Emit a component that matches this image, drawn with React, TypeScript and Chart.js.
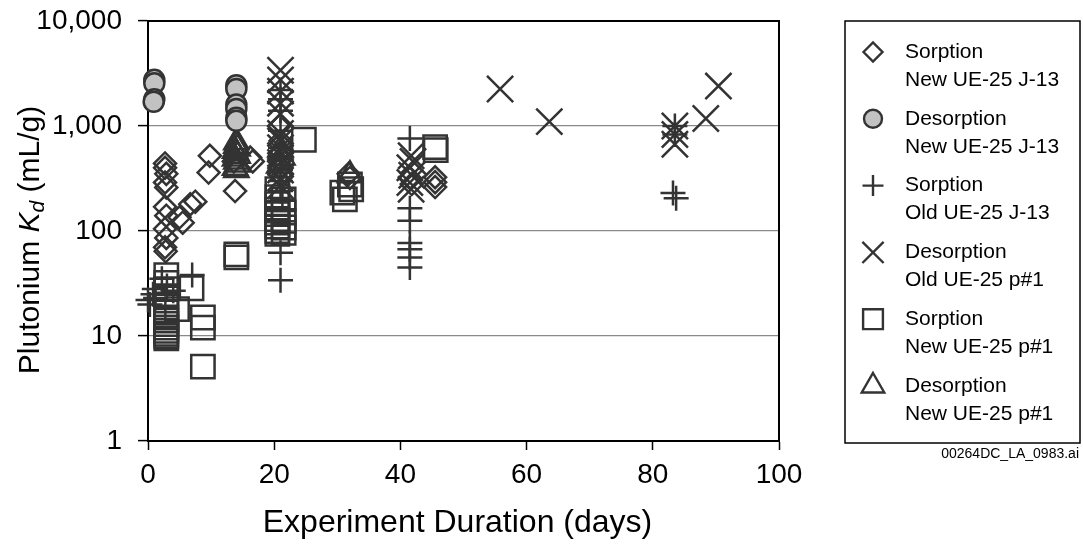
import React, { useEffect, useRef } from 'react';
import { Chart, registerables } from 'chart.js';

Chart.register(...registerables);

// ---------- data (day, Kd mL/g) ----------
const xTickValues = [0, 20, 40, 60, 80, 100];
const yTickValues = [1, 10, 100, 1000, 10000];

const sorptionNewJ13: [number, number][] = [
  [2.7, 440], [2.7, 400], [2.9, 350], [2.7, 290], [2.9, 260], [2.7, 170], [2.9, 140],
  [2.7, 105], [2.9, 86], [2.7, 70], [2.8, 64],
  [5, 135], [5.5, 120], [6.7, 180], [7.5, 190],
  [9.8, 520], [9.6, 360],
  [13.8, 240], [13.6, 460], [16.2, 500], [16.6, 460],
  [20.8, 1000], [21, 720], [21.2, 560], [20.8, 460], [21, 390], [21.2, 330],
  [31.8, 350], [32, 320],
  [41.5, 320], [41.8, 280],
  [45.5, 325], [45.5, 292], [45.5, 262],
];

const desorptionNewJ13: [number, number][] = [
  [1, 2750], [1, 2550], [1, 1800], [0.9, 1700],
  [14, 2450], [14, 2250], [14, 1600], [14, 1450], [14, 1200], [14, 1120],
];

const sorptionOldJ13: [number, number][] = [
  [0, 22], [0.3, 20], [0.8, 25], [1, 28], [1.2, 23], [2.2, 35], [3, 30], [4, 27], [7, 38],
  [21, 2200], [21, 1800], [21, 1400], [21, 900], [21, 620], [21, 480], [21, 380], [21, 300],
  [21, 240], [21.3, 200], [21, 62], [21, 34],
  [41.5, 760], [41.5, 165], [41.5, 125], [41.5, 77], [41.5, 67], [41.5, 56], [41.5, 45],
  [83.5, 1000], [83.5, 830], [83.2, 230], [83.7, 205],
];

const desorptionOldP1: [number, number][] = [
  [21, 3400], [21, 2750], [21, 2150], [21, 1650], [21, 1300], [21, 850], [21, 720], [21, 620],
  [21, 520], [21, 450], [21, 380], [21, 320], [21, 270],
  [41.7, 520], [42, 460], [41.5, 400], [41.8, 340], [41.5, 290], [41.7, 250],
  [55.8, 2250], [63.6, 1100], [83.5, 1000], [83.5, 830], [83.5, 670], [88.4, 1180], [90.4, 2400],
];

const sorptionNewP1: [number, number][] = [
  [2.9, 38], [2.9, 32], [2.9, 28], [2.9, 24], [2.9, 20], [2.9, 17], [2.9, 15], [2.9, 14],
  [2.9, 13], [2.9, 12], [2.9, 11.2], [2.9, 10.5], [2.9, 10], [2.9, 9.5],
  [4.6, 18], [6.9, 28.5], [8.7, 15], [8.7, 12], [8.7, 5.1],
  [14, 60], [14, 56],
  [20.5, 250], [20.5, 210], [20.5, 180], [20.5, 160], [20.5, 145], [20.5, 130], [20.5, 120],
  [20.5, 110], [20.5, 100], [20.5, 94], [21.5, 200], [21.5, 150], [21.5, 125], [21.5, 108], [21.5, 96],
  [24.7, 740],
  [30.8, 232], [31.2, 200], [32, 277], [32.2, 250],
  [45.5, 630], [45.6, 590],
];

const desorptionNewP1: [number, number][] = [
  [14, 700], [14, 650], [14.2, 610], [13.8, 580], [14, 550], [14.2, 520], [13.8, 490],
  [14, 460], [14.2, 430], [13.8, 400], [14, 380],
  [21, 600], [21.3, 500], [20.8, 420],
  [32, 340],
];

const legendLabels: [string, string][] = [
  ['Sorption', 'New UE-25 J-13'],
  ['Desorption', 'New UE-25 J-13'],
  ['Sorption', 'Old UE-25 J-13'],
  ['Desorption', 'Old UE-25 p#1'],
  ['Sorption', 'New UE-25 p#1'],
  ['Desorption', 'New UE-25 p#1'],
];

const footnote = '00264DC_LA_0983.ai';
const xTitle = 'Experiment Duration (days)';

// ---------- styling ----------
const FONT = '"Liberation Sans", Arial, Helvetica, sans-serif';
const INK = '#333333';
const CIRCLE_FILL = '#c2c2c2';

type Sym = 'rectRot' | 'circle' | 'cross' | 'crossRot' | 'rect' | 'triangle';
const seriesStyle: { style: Sym; radius: number; legendRadius: number; fill: string }[] = [
  { style: 'rectRot', radius: 11, legendRadius: 9.5, fill: 'rgba(0,0,0,0)' },
  { style: 'circle', radius: 10, legendRadius: 9, fill: CIRCLE_FILL },
  { style: 'cross', radius: 12.5, legendRadius: 10.5, fill: 'rgba(0,0,0,0)' },
  { style: 'crossRot', radius: 18.5, legendRadius: 15, fill: 'rgba(0,0,0,0)' },
  { style: 'rect', radius: 16.5, legendRadius: 14, fill: 'rgba(0,0,0,0)' },
  { style: 'triangle', radius: 14, legendRadius: 13, fill: 'rgba(0,0,0,0)' },
];

function drawSymbol(ctx: CanvasRenderingContext2D, style: Sym, x: number, y: number, r: number, fill: string) {
  ctx.beginPath();
  if (style === 'rectRot') {
    ctx.moveTo(x - r, y); ctx.lineTo(x, y - r); ctx.lineTo(x + r, y); ctx.lineTo(x, y + r); ctx.closePath();
  } else if (style === 'circle') {
    ctx.arc(x, y, r, 0, Math.PI * 2); ctx.closePath();
  } else if (style === 'cross') {
    ctx.moveTo(x, y - r); ctx.lineTo(x, y + r); ctx.moveTo(x - r, y); ctx.lineTo(x + r, y);
  } else if (style === 'crossRot') {
    const o = r * Math.SQRT1_2;
    ctx.moveTo(x - o, y - o); ctx.lineTo(x + o, y + o); ctx.moveTo(x + o, y - o); ctx.lineTo(x - o, y + o);
  } else if (style === 'rect') {
    const s = r * Math.SQRT1_2;
    ctx.rect(x - s, y - s, 2 * s, 2 * s);
  } else if (style === 'triangle') {
    let a = 0;
    ctx.moveTo(x + Math.sin(a) * r, y - Math.cos(a) * r);
    a += (2 * Math.PI) / 3;
    ctx.lineTo(x + Math.sin(a) * r, y - Math.cos(a) * r);
    a += (2 * Math.PI) / 3;
    ctx.lineTo(x + Math.sin(a) * r, y - Math.cos(a) * r);
    ctx.closePath();
  }
  if (style === 'circle' || style === 'rectRot' || style === 'rect' || style === 'triangle') {
    ctx.fillStyle = fill;
    ctx.fill();
  }
  ctx.stroke();
}

const decorPlugin = {
  id: 'decor',
  beforeDatasetsDraw(chart: any) {
    const { ctx, chartArea: a } = chart;
    ctx.save();
    ctx.strokeStyle = '#000';
    ctx.lineWidth = 2;
    ctx.strokeRect(a.left, a.top, a.right - a.left, a.bottom - a.top);
    ctx.restore();
  },
  afterDraw(chart: any) {
    const { ctx, chartArea: a } = chart;
    ctx.save();
    ctx.fillStyle = '#000';

    // x title
    ctx.font = `32px ${FONT}`;
    ctx.textAlign = 'center';
    ctx.textBaseline = 'middle';
    ctx.fillText(xTitle, (a.left + a.right) / 2 - 6, 523);

    // y title with italic K and subscript d
    ctx.save();
    ctx.translate(31, 240);
    ctx.rotate(-Math.PI / 2);
    ctx.textAlign = 'left';
    ctx.textBaseline = 'middle';
    const parts = [
      { t: 'Plutonium ', f: `30px ${FONT}`, dy: 0 },
      { t: 'K', f: `italic 30px ${FONT}`, dy: 0 },
      { t: 'd', f: `italic 21px ${FONT}`, dy: 7 },
      { t: ' (mL/g)', f: `30px ${FONT}`, dy: 0 },
    ];
    let total = 0;
    for (const p of parts) { ctx.font = p.f; total += ctx.measureText(p.t).width; }
    let cx = -total / 2;
    for (const p of parts) {
      ctx.font = p.f;
      ctx.fillText(p.t, cx, p.dy);
      cx += ctx.measureText(p.t).width;
    }
    ctx.restore();

    // legend
    ctx.strokeStyle = '#000';
    ctx.lineWidth = 1.5;
    ctx.strokeRect(845, 21, 235, 422);
    ctx.font = `21px ${FONT}`;
    ctx.textAlign = 'left';
    ctx.textBaseline = 'middle';
    legendLabels.forEach((lab, i) => {
      const y0 = 52 + i * 66.8;
      const s = seriesStyle[i];
      ctx.save();
      ctx.strokeStyle = INK;
      ctx.lineWidth = 2.4;
      drawSymbol(ctx, s.style, 873, y0, s.legendRadius, s.fill);
      ctx.restore();
      ctx.fillStyle = '#000';
      ctx.fillText(lab[0], 905, y0);
      ctx.fillText(lab[1], 905, y0 + 28);
    });

    // footnote
    ctx.font = `14px ${FONT}`;
    ctx.textAlign = 'right';
    ctx.fillText(footnote, 1079, 454);
    ctx.restore();
  },
};

const seriesData = [sorptionNewJ13, desorptionNewJ13, sorptionOldJ13, desorptionOldP1, sorptionNewP1, desorptionNewP1];

export default function App() {
  const ref = useRef<HTMLCanvasElement | null>(null);

  useEffect(() => {
    if (!ref.current) return;
    const datasets = seriesData.map((d, i) => ({
      label: legendLabels[i].join(' '),
      data: d.map(([x, y]) => ({ x, y })),
      pointStyle: seriesStyle[i].style,
      pointRadius: seriesStyle[i].radius,
      pointHoverRadius: seriesStyle[i].radius,
      borderColor: INK,
      backgroundColor: seriesStyle[i].fill,
      borderWidth: 2.5,
      showLine: false,
      clip: false as any,
    }));

    const chart = new Chart(ref.current, {
      type: 'scatter',
      data: { datasets },
      plugins: [decorPlugin],
      options: {
        animation: false,
        responsive: false,
        maintainAspectRatio: false,
        events: [],
        layout: { padding: { left: 0, right: 304, top: 18, bottom: 0 } },
        plugins: { legend: { display: false }, tooltip: { enabled: false }, title: { display: false } },
        scales: {
          x: {
            type: 'linear',
            min: 0,
            max: 100,
            afterFit: (s: any) => { s.height = 103; s.paddingLeft = 0; s.paddingRight = 0; },
            afterBuildTicks: (s: any) => { s.ticks = xTickValues.map((v) => ({ value: v })); },
            ticks: {
              autoSkip: false,
              font: { family: FONT, size: 28 },
              color: '#000',
              padding: 8,
              maxRotation: 0,
            },
            grid: { drawOnChartArea: false, tickLength: 9, tickColor: '#000', tickWidth: 1.5 },
            border: { display: true, color: '#000', width: 2 },
          },
          y: {
            type: 'logarithmic',
            min: 1,
            max: 10000,
            afterFit: (s: any) => { s.width = 148; s.paddingTop = 0; s.paddingBottom = 0; },
            afterBuildTicks: (s: any) => { s.ticks = yTickValues.map((v) => ({ value: v })); },
            ticks: {
              autoSkip: false,
              font: { family: FONT, size: 28 },
              color: '#000',
              padding: 16,
              callback: (v: any) => Number(v).toLocaleString('en-US'),
            },
            grid: { color: '#8a8a8a', lineWidth: 1.2, tickLength: 10, tickColor: '#000', tickWidth: 1.5 },
            border: { display: true, color: '#000', width: 2 },
          },
        },
      },
    });
    return () => chart.destroy();
  }, []);

  return (
    <div style={{ position: 'absolute', left: 0, top: 0, width: 1083, height: 544, background: '#fff' }}>
      <canvas ref={ref} width={1083} height={544} style={{ display: 'block', width: 1083, height: 544 }} />
    </div>
  );
}
